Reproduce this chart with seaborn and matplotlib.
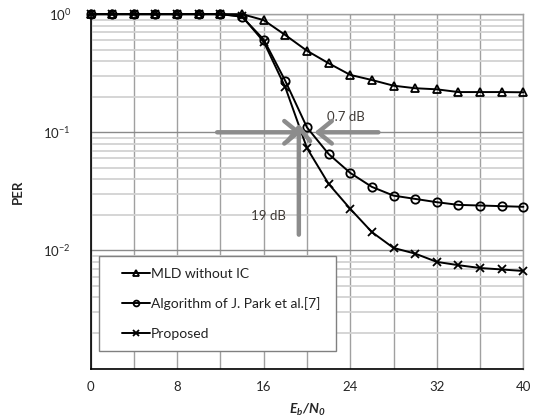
import numpy as np
import pandas as pd
import seaborn as sns
import matplotlib.pyplot as plt
from matplotlib.patches import Rectangle
from matplotlib.ticker import MultipleLocator, FixedLocator, LogLocator, NullFormatter

# data
ebn0 = list(range(0, 41, 2))
per_mld = [1.0, 1.0, 1.0, 1.0, 1.0, 1.0, 1.0, 1.0, 0.89, 0.665, 0.49, 0.384, 0.306,
           0.277, 0.248, 0.236, 0.231, 0.219, 0.219, 0.219, 0.218]
per_park = [1.0, 1.0, 1.0, 1.0, 1.0, 1.0, 1.0, 0.95, 0.61, 0.272, 0.11, 0.0655, 0.0453,
            0.0345, 0.0291, 0.0273, 0.0256, 0.0243, 0.024, 0.0237, 0.0234]
per_prop = [1.0, 1.0, 1.0, 1.0, 1.0, 1.0, 1.0, 0.96, 0.585, 0.24, 0.0735, 0.0366, 0.0225,
            0.0143, 0.0105, 0.0094, 0.0080, 0.0075, 0.0071, 0.0069, 0.0067]
series_names = ['MLD without IC', 'Algorithm of J. Park et al.[7]', 'Proposed']

df = pd.DataFrame({
    'EbN0': ebn0 * 3,
    'PER': per_mld + per_park + per_prop,
    'scheme': [n for n in series_names for _ in ebn0],
})

sns.set_style('white')
plt.rcParams['font.family'] = ['Lato', 'DejaVu Sans']
plt.rcParams['mathtext.fontset'] = 'custom'
plt.rcParams['mathtext.rm'] = 'Lato'
plt.rcParams['mathtext.it'] = 'Lato:italic'
plt.rcParams['mathtext.bf'] = 'Lato:bold'
plt.rcParams['mathtext.bfit'] = 'Lato:italic:bold'
plt.rcParams['mathtext.default'] = 'regular'

fig = plt.figure(figsize=(5.39, 4.16), dpi=100)
ax = fig.add_axes([0.168, 0.114, 0.803, 0.852])

sns.lineplot(data=df, x='EbN0', y='PER', hue='scheme', style='scheme',
             palette=['black'] * 3, markers=['^', 'o', 'X'], dashes=False,
             legend=False, ax=ax, lw=1.4, markersize=6,
             markerfacecolor='none', markeredgecolor='black', markeredgewidth=1.3,
             clip_on=False, zorder=5)
for ln, m in zip(ax.lines, ['^', 'o', 'x']):
    ln.set_marker(m)

ax.set_yscale('log')
ax.set_xlim(0, 40)
ax.set_ylim(1e-3, 1)

ax.xaxis.set_major_locator(MultipleLocator(8))
ax.xaxis.set_minor_locator(MultipleLocator(4))
ax.yaxis.set_major_locator(FixedLocator([1e-3, 1e-2, 1e-1, 1]))
ax.set_yticklabels(['', r'10$^{-2}$', r'10$^{-1}$', r'10$^{0}$'])
ax.yaxis.set_minor_locator(LogLocator(base=10, subs=np.arange(2, 10)))
ax.yaxis.set_minor_formatter(NullFormatter())

ax.grid(axis='x', which='both', color='#a0a0a0', lw=1.0)
ax.grid(axis='y', which='major', color='#8a8a8a', lw=1.0)
ax.grid(axis='y', which='minor', color='#d2d2d2', lw=1.3)
ax.set_axisbelow(True)
ax.tick_params(which='both', length=0, labelsize=9.5, colors='#262626')
ax.tick_params(axis='x', pad=9)
ax.tick_params(axis='y', pad=14)

for side in ['left', 'bottom']:
    ax.spines[side].set_color('black')
    ax.spines[side].set_linewidth(1.2)
for side in ['top', 'right']:
    ax.spines[side].set_color('#a0a0a0')
    ax.spines[side].set_linewidth(1.0)

ax.set_ylabel('PER', fontweight='bold', fontsize=9.5, labelpad=14)
ax.set_xlabel(r'$\mathbfit{E_b/N_0}$', fontsize=10, labelpad=6)

# annotations
arrow = dict(arrowstyle='->,head_length=0.55,head_width=0.45', lw=3.2,
             color='#8c8c8c', shrinkA=0, shrinkB=0, mutation_scale=18)
ax.annotate('', xy=(19.5, 0.1), xytext=(11.7, 0.1), arrowprops=arrow, zorder=6)
ax.annotate('', xy=(20.7, 0.1), xytext=(26.6, 0.1), arrowprops=arrow, zorder=6)
ax.annotate('', xy=(19.25, 0.118), xytext=(19.25, 0.0136), arrowprops=arrow, zorder=6)
ax.text(23.6, 0.136, '0.7 dB', fontsize=9.5, color='#3f3a36', ha='center', va='center')
ax.text(16.4, 0.0195, '19 dB', fontsize=9.5, color='#3f3a36', ha='center', va='center')

# legend box drawn separately so the entries can sit with a wide left margin
ax.add_patch(Rectangle((0.0196, 0.049), 0.547, 0.268, transform=ax.transAxes,
                       facecolor='white', edgecolor='#808080', lw=1.0, zorder=7))
leg = ax.legend(handles=ax.lines[:3], labels=series_names, loc='center left',
                bbox_to_anchor=(0.0727, 0.183), borderaxespad=0, borderpad=0,
                fontsize=10, frameon=False, handlelength=2.0,
                handletextpad=0.1, labelspacing=1.25, markerscale=0.7)
leg.set_zorder(8)
for t in leg.get_texts():
    t.set_color('#222222')

fig.savefig('out.png', dpi=100)
